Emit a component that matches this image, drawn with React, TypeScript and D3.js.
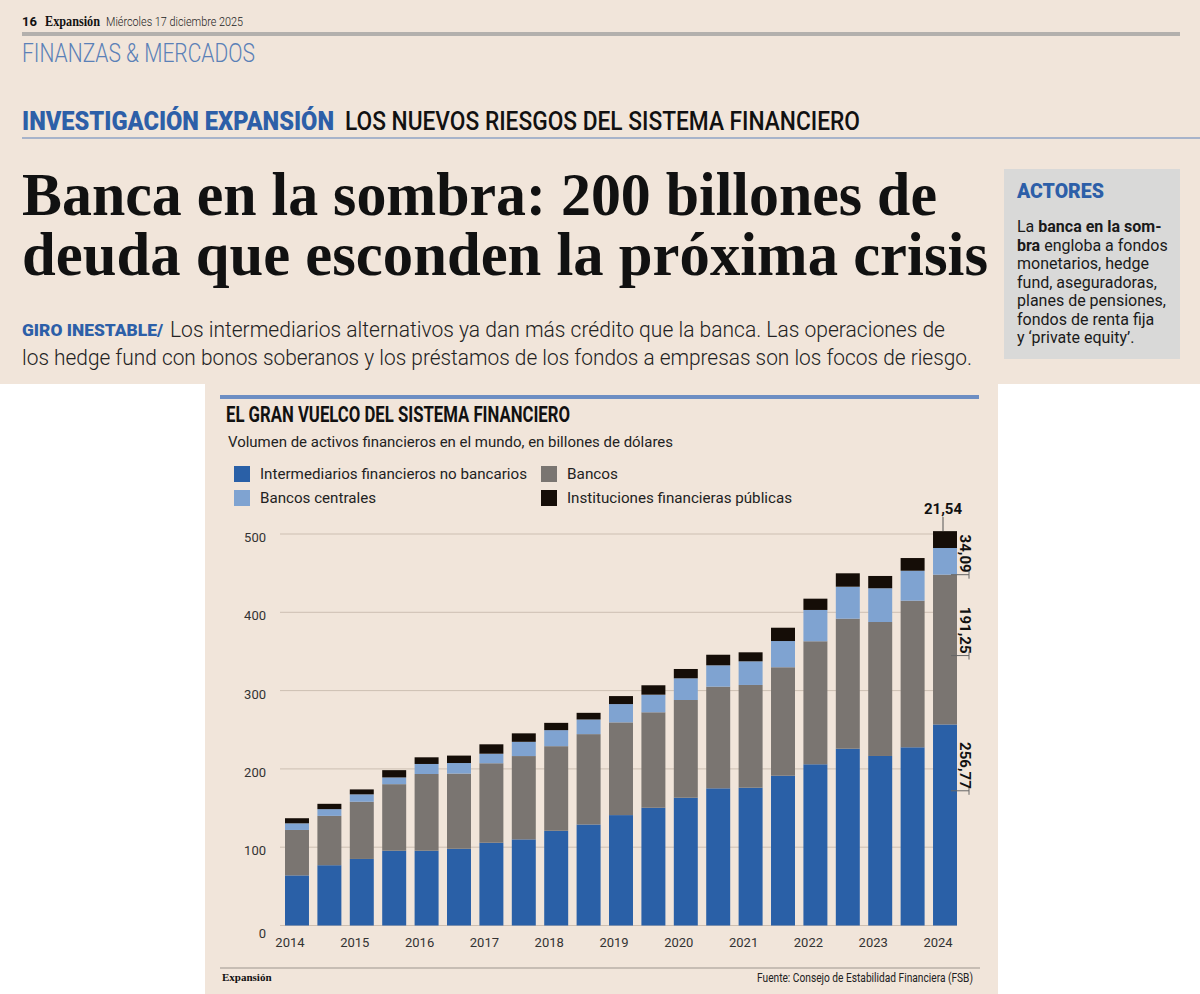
import * as d3 from "d3";

// semesters 2014 .. 2024 (21 bars), values in billones de dólares
const periods = [
  "2014-1", "2014-2", "2015-1", "2015-2", "2016-1", "2016-2", "2017-1",
  "2017-2", "2018-1", "2018-2", "2019-1", "2019-2", "2020-1", "2020-2",
  "2021-1", "2021-2", "2022-1", "2022-2", "2023-1", "2023-2", "2024-1",
];
const yearLabels = ["2014", "2015", "2016", "2017", "2018", "2019", "2020", "2021", "2022", "2023", "2024"];

const noBancarios = [64, 77, 85, 95.5, 95.5, 98, 105.7, 110, 121, 129, 141, 150.4, 163.2, 175.2, 176, 191.3, 205.9, 225.8, 216.5, 227.6, 256.77];
const bancos = [58, 63, 73, 85, 98, 96, 101.5, 106.4, 108, 115.4, 118.4, 121.9, 124.8, 129.8, 131.2, 138.5, 157.1, 166, 171.1, 187.2, 191.25];
const centrales = [8.5, 8.6, 9.5, 8.6, 12.8, 13.5, 12.2, 18.2, 20.5, 18.7, 23.4, 22.5, 27.7, 27.3, 30.2, 33.5, 40, 40.9, 43.1, 38.3, 34.09];
const publicas = [6.5, 6.8, 6.3, 9.3, 8.5, 9.5, 12, 10.8, 9.3, 8.5, 10.2, 12, 11.9, 13.5, 11.5, 17, 14.4, 17.1, 15.7, 16.2, 21.54];

const yTicks = [0, 100, 200, 300, 400, 500];

const series = [
  { key: "noBancarios", label: "Intermediarios financieros no bancarios", color: "#2a60a7", values: noBancarios },
  { key: "bancos", label: "Bancos", color: "#7a7571", values: bancos },
  { key: "centrales", label: "Bancos centrales", color: "#7fa3d1", values: centrales },
  { key: "publicas", label: "Instituciones financieras públicas", color: "#150d07", values: publicas },
];

const BEIGE = "#f1e5da";
const BLUE_TXT = "#2d5fa8";
const sans = "Roboto, 'Noto Sans', sans-serif";
const serif = "'Liberation Serif', 'DejaVu Serif', serif";

export default function App() {
  const rows = periods.map((p, i) => {
    const r: any = { period: p };
    series.forEach((s) => (r[s.key] = s.values[i]));
    return r;
  });
  const stacked = d3.stack().keys(series.map((s) => s.key))(rows);

  const x = d3.scaleBand().domain(periods).range([285, 957]).paddingInner(0.26).paddingOuter(0);
  const y = d3.scaleLinear().domain([0, 500]).range([925.5, 534]);

  const last = periods.length - 1;
  const lastX = x(periods[last])!;
  const bw = x.bandwidth();
  const lastTop = y(d3.sum(series, (s) => s.values[last]));

  // rotated value labels next to the last bar (end position as fraction up the segment)
  const sideLabels = [
    { layer: 2, frac: 0.0 },
    { layer: 1, frac: 0.46 },
    { layer: 0, frac: 0.67 },
  ];

  return (
    <div style={{ position: "absolute", left: 0, top: 0, width: 1200, height: 994, background: "#fff" }}>
      <svg width={1200} height={994} style={{ display: "block" }}>
        <rect x={0} y={0} width={1200} height={384} fill={BEIGE} />
        <rect x={205} y={384} width={793} height={610} fill={BEIGE} />

        {/* page header */}
        <text x={22} y={26} fontFamily={sans} fontWeight={700} fontSize={13} fill="#111">16</text>
        <text x={45} y={26} fontFamily={serif} fontWeight={700} fontSize={14} fill="#111" textLength={55} lengthAdjust="spacingAndGlyphs">Expansión</text>
        <text x={106} y={26} fontFamily={sans} fontWeight={300} fontSize={13} fill="#222" textLength={137} lengthAdjust="spacingAndGlyphs">Miércoles 17 diciembre 2025</text>
        <line x1={22} x2={1180} y1={34} y2={34} stroke="#b3b0ad" strokeWidth={4} />
        <text x={22} y={62} fontFamily={sans} fontWeight={300} fontSize={25} fill="#5a80b7" textLength={233} lengthAdjust="spacingAndGlyphs">FINANZAS &amp; MERCADOS</text>

        <text x={22} y={130} fontFamily={sans} fontWeight={900} fontSize={25} fill={BLUE_TXT} textLength={312} lengthAdjust="spacingAndGlyphs">INVESTIGACIÓN EXPANSIÓN</text>
        <text x={345} y={130} fontFamily={sans} fontWeight={500} fontSize={25} fill="#111" textLength={515} lengthAdjust="spacingAndGlyphs">LOS NUEVOS RIESGOS DEL SISTEMA FINANCIERO</text>
        <line x1={22} x2={1200} y1={138} y2={138} stroke="#8ea2c4" strokeWidth={1.5} />

        <text x={22} y={215} fontFamily={serif} fontWeight={700} fontSize={62} fill="#111" textLength={915} lengthAdjust="spacingAndGlyphs">Banca en la sombra: 200 billones de</text>
        <text x={22} y={275} fontFamily={serif} fontWeight={700} fontSize={62} fill="#111" textLength={966} lengthAdjust="spacingAndGlyphs">deuda que esconden la próxima crisis</text>

        <text x={22} y={336} fontFamily={sans} fontWeight={900} fontSize={17} fill={BLUE_TXT} textLength={141} lengthAdjust="spacingAndGlyphs">GIRO INESTABLE/</text>
        <text x={170} y={337} fontFamily={sans} fontWeight={300} fontSize={22} fill="#222" textLength={775} lengthAdjust="spacingAndGlyphs">Los intermediarios alternativos ya dan más crédito que la banca. Las operaciones de</text>
        <text x={22} y={365} fontFamily={sans} fontWeight={300} fontSize={22} fill="#222" textLength={950} lengthAdjust="spacingAndGlyphs">los hedge fund con bonos soberanos y los préstamos de los fondos a empresas son los focos de riesgo.</text>

        {/* sidebar */}
        <rect x={1004} y={169} width={176} height={190} fill="#d9d9d8" />
        <text x={1017} y={198} fontFamily={sans} fontWeight={900} fontSize={19.5} fill={BLUE_TXT}>ACTORES</text>
        <g fontFamily={sans} fontSize={16} fill="#1a1a1a">
          <text x={1017} y={232}>La <tspan fontWeight={700}>banca en la som-</tspan></text>
          <text x={1017} y={250.5}><tspan fontWeight={700}>bra</tspan> engloba a fondos</text>
          <text x={1017} y={269}>monetarios, hedge</text>
          <text x={1017} y={287.5}>fund, aseguradoras,</text>
          <text x={1017} y={306}>planes de pensiones,</text>
          <text x={1017} y={324.5}>fondos de renta fija</text>
          <text x={1017} y={343}>y ‘private equity’.</text>
        </g>

        {/* chart */}
        <line x1={220} x2={979} y1={397} y2={397} stroke="#6d8ec3" strokeWidth={4} />
        <text x={226} y={422} fontFamily={sans} fontWeight={700} fontSize={22} fill="#111" textLength={344} lengthAdjust="spacingAndGlyphs">EL GRAN VUELCO DEL SISTEMA FINANCIERO</text>
        <text x={228} y={447} fontFamily={sans} fontSize={15} fill="#222" textLength={445} lengthAdjust="spacingAndGlyphs">Volumen de activos financieros en el mundo, en billones de dólares</text>

        {series.map((s, i) => {
          const col = i === 1 || i === 3 ? 1 : 0;
          const row = i >= 2 ? 1 : 0;
          const lx = col === 0 ? 234 : 541;
          const ly = 474 + row * 24;
          const widths = [267, 51, 116, 225];
          return (
            <g key={s.key}>
              <rect x={lx} y={ly - 8} width={16} height={16} fill={s.color} />
              <text x={lx + 26} y={ly + 5} fontFamily={sans} fontSize={15} fill="#222" textLength={widths[i]} lengthAdjust="spacingAndGlyphs">{s.label}</text>
            </g>
          );
        })}

        {yTicks.map((t) => (
          <g key={t}>
            <line x1={280} x2={957} y1={y(t)} y2={y(t)} stroke="#cdbfb2" strokeWidth={1} />
            <text x={266} y={y(t) + (t === 0 ? 12 : 8)} textAnchor="end" fontFamily={sans} fontSize={13} fill="#333">{t}</text>
          </g>
        ))}

        {stacked.map((layer, li) => (
          <g key={layer.key} fill={series[li].color}>
            {layer.map((d, i) => (
              <rect key={i} x={x(periods[i])} y={y(d[1])} width={bw} height={y(d[0]) - y(d[1])} />
            ))}
          </g>
        ))}

        {yearLabels.map((yr, i) => (
          <text key={yr} x={x(periods[i * 2])! + bw / 2 - 7} y={947} textAnchor="middle" fontFamily={sans} fontSize={13} fill="#333">{yr}</text>
        ))}

        {/* annotations on last bar */}
        <line x1={lastX + bw / 2 - 2} x2={lastX + bw / 2 - 2} y1={517} y2={lastTop} stroke="#555" strokeWidth={1} />
        <text x={lastX + bw / 2 - 2} y={514} textAnchor="middle" fontFamily={sans} fontWeight={700} fontSize={15} fill="#111">
          {String(publicas[last]).replace(".", ",")}
        </text>
        {sideLabels.map((a) => {
          const seg = stacked[a.layer][last];
          const yEnd = y(seg[0]) - a.frac * (y(seg[0]) - y(seg[1]));
          const val = series[a.layer].values[last];
          return (
            <g key={a.layer}>
              <line x1={lastX + bw - 6} x2={lastX + bw + 12} y1={yEnd} y2={yEnd} stroke="#666" strokeWidth={1} />
              <line x1={lastX + bw + 12} x2={lastX + bw + 12} y1={yEnd - 4} y2={yEnd + 4} stroke="#666" strokeWidth={1} />
              <text transform={`translate(${lastX + bw + 3},${yEnd - 2}) rotate(90)`} textAnchor="end" fontFamily={sans} fontWeight={700} fontSize={15} fill="#111">
                {val.toFixed(2).replace(".", ",")}
              </text>
            </g>
          );
        })}

        {/* footer */}
        <line x1={220} x2={980} y1={968} y2={968} stroke="#9d958e" strokeWidth={1} />
        <text x={222} y={981} fontFamily={serif} fontWeight={700} fontSize={11} fill="#111">Expansión</text>
        <text x={973} y={982} textAnchor="end" fontFamily={sans} fontSize={13} fill="#222" textLength={216} lengthAdjust="spacingAndGlyphs">Fuente: Consejo de Estabilidad Financiera (FSB)</text>
      </svg>
    </div>
  );
}
